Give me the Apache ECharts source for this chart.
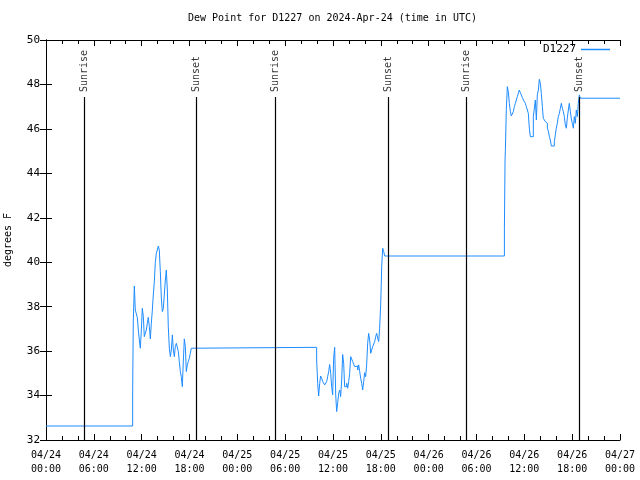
<!DOCTYPE html>
<html><head><meta charset="utf-8">
<script src="https://cdn.jsdelivr.net/npm/echarts@6/dist/echarts.min.js"></script>
<style>html,body{margin:0;padding:0;background:#fff}#c{width:640px;height:480px}</style>
</head><body><div id="c"></div>
<script>
// hours since 2024-04-24 00:00 UTC
const hours = [0, 10.87, 10.95, 11.08, 11.12, 11.2, 11.45, 11.58, 11.71, 11.83, 11.96, 12.08, 12.21, 12.33, 12.46, 12.58, 12.71, 12.83, 12.96, 13.09, 13.21, 13.34, 13.46, 13.59, 13.71, 13.84, 13.96, 14.09, 14.21, 14.34, 14.47, 14.59, 14.72, 14.84, 14.97, 15.09, 15.22, 15.34, 15.47, 15.6, 15.72, 15.85, 15.97, 16.1, 16.22, 16.35, 16.47, 16.6, 16.72, 16.85, 16.97, 17.1, 17.23, 17.35, 17.48, 17.6, 17.73, 17.85, 17.98, 18.1, 18.23, 18.35,
  33.95, 34.08, 34.2, 34.33, 34.45, 34.58, 34.71, 34.83, 34.96, 35.08, 35.21, 35.33, 35.46, 35.58, 35.71, 35.83, 35.96, 36.08, 36.21, 36.34, 36.46, 36.59, 36.71, 36.84, 36.96, 37.09, 37.21, 37.34, 37.46, 37.59, 37.72, 37.84, 37.97, 38.09, 38.22, 38.34, 38.47, 38.59, 38.72, 38.84, 38.97, 39.1, 39.22, 39.35, 39.47, 39.6, 39.72, 39.85, 39.97, 40.1, 40.22, 40.35, 40.47, 40.6, 40.73, 40.85, 40.98, 41.1, 41.23, 41.35, 41.48, 41.6, 41.73, 41.85, 41.98, 42.11, 42.23, 42.36, 42.48,
  57.5, 57.58, 57.62, 57.74, 57.87, 57.99, 58.12, 58.25, 58.37, 58.5, 58.62, 58.75, 58.87, 59.0, 59.12, 59.25, 59.37, 59.5, 59.62, 59.75, 59.88, 60.0, 60.13, 60.25, 60.38, 60.5, 60.63, 60.75, 60.88, 61.0, 61.13, 61.26, 61.38, 61.51, 61.63, 61.76, 61.88, 62.01, 62.13, 62.26, 62.38, 62.51, 62.63, 62.76, 62.89, 63.01, 63.14, 63.26, 63.39, 63.51, 63.64, 63.76, 63.89, 64.01, 64.14, 64.26, 64.39, 64.52, 64.64, 64.77, 64.89, 65.02, 65.14, 65.27, 65.39, 65.52, 65.64, 65.77, 65.89, 66.02, 66.15, 66.27, 66.4, 66.52, 66.65, 66.77, 66.9, 67.02, 72];
const dewPoint = [32.63, 34.2, 37.36, 38.93, 38.6, 37.85, 37.52, 36.95, 36.5, 36.13, 36.95, 37.93, 37.55, 36.65, 36.58, 36.95, 37.25, 37.52, 37.1, 36.55, 37.25, 37.85, 38.53, 39.13, 39.98, 40.4, 40.55, 40.73, 40.55, 39.58, 38.38, 37.78, 37.93, 38.53, 39.2, 39.65, 38.75, 37.1, 36.13, 35.75, 36.05, 36.73, 36.05, 35.75, 36.2, 36.35, 36.28, 35.98, 35.53, 35.08, 34.85, 34.4, 35.6, 36.55, 36.2, 35.08, 35.38, 35.53, 35.68, 35.9, 36.13, 36.17,
  35.6, 34.55, 33.98, 34.55, 34.88, 34.78, 34.63, 34.58, 34.48, 34.4, 34.63, 34.85, 35.08, 35.4, 35.0, 34.4, 34.03, 35.68, 36.17, 34.03, 33.28, 33.68, 34.1, 34.25, 33.95, 34.7, 35.85, 35.45, 34.4, 34.4, 34.55, 34.33, 34.63, 35.0, 35.75, 35.68, 35.53, 35.42, 35.3, 35.23, 35.33, 35.15, 35.38, 35.08, 34.78, 34.55, 34.25, 34.63, 35.03, 34.85, 35.38, 36.35, 36.8, 36.5, 35.9, 35.9, 36.2, 36.13, 36.43, 36.65, 36.8, 36.58, 36.43, 37.03, 38.08, 39.8, 40.63, 40.48, 40.28,
  41.5, 44.6, 45.02, 46.88, 47.9, 47.68, 47.15, 46.78, 46.58, 46.58, 46.78, 47.0, 47.15, 47.3, 47.45, 47.6, 47.75, 47.63, 47.53, 47.42, 47.3, 47.23, 47.15, 47.0, 46.85, 46.7, 46.03, 45.65, 45.65, 45.65, 46.55, 46.55, 47.3, 46.4, 47.53, 47.75, 48.23, 48.05, 47.6, 47.0, 46.48, 46.4, 46.33, 46.25, 46.03, 45.9, 45.65, 45.5, 45.23, 45.23, 45.23, 45.43, 45.73, 46.03, 46.25, 46.55, 46.7, 46.93, 47.15, 46.93, 46.78, 46.55, 46.18, 46.03, 46.48, 46.85, 47.15, 46.78, 46.48, 46.25, 46.03, 46.55, 46.25, 46.85, 46.55, 47.15, 47.53, 47.38, 47.38];
const eventHours = [4.77, 18.82, 28.73, 42.9, 52.68, 66.86];
const eventNames = ['Sunrise', 'Sunset', 'Sunrise', 'Sunset', 'Sunrise', 'Sunset'];
const eventLineTop = 47.44;
const eventLabelAt = 47.66;
const seriesName = 'D1227';
const titleText = 'Dew Point for D1227 on 2024-Apr-24 (time in UTC)';
const yName = 'degrees F';

const FONT = 'DejaVu Sans Mono';
const pad = n => (n < 10 ? '0' : '') + n;
function fmtX(v) {
  const day = 24 + Math.floor(v / 24 + 1e-9);
  const h = Math.round(v - (day - 24) * 24);
  return '04/' + pad(day) + '\n' + pad(h) + ':00';
}
const chart = echarts.init(document.getElementById('c'), null, {renderer: 'canvas'});
const axisLine = {show: true, lineStyle: {color: '#000', width: 1}};
chart.setOption({
  animation: false,
  backgroundColor: '#fff',
  title: {text: titleText, left: 188, top: 13, padding: 0,
    textStyle: {fontFamily: FONT, fontSize: 10, fontWeight: 'normal', color: '#000'}},
  legend: {data: [seriesName], right: 30, top: 44, align: 'right', icon: 'rect', itemWidth: 29, itemHeight: 1.5,
    itemGap: 5, padding: 0, textStyle: {fontFamily: FONT, fontSize: 11, color: '#000', padding: [0, 0, 0, 0]}},
  grid: {left: 46, right: 20, top: 40, bottom: 40, containLabel: false, outerBoundsMode: 'none'},
  xAxis: [{type: 'value', min: 0, max: 72, interval: 6, axisLine,
      axisTick: {show: true, inside: true, length: 6, lineStyle: {color: '#000'}},
      minorTick: {show: true, splitNumber: 3, length: 4, lineStyle: {color: '#000'}},
      splitLine: {show: false},
      axisLabel: {formatter: fmtX, fontFamily: FONT, fontSize: 10, color: '#000', lineHeight: 14, margin: 8}},
    {type: 'value', position: 'top', min: 0, max: 72, interval: 6, axisLine,
      axisTick: {show: true, inside: true, length: 6, lineStyle: {color: '#000'}},
      minorTick: {show: true, splitNumber: 3, length: 4, lineStyle: {color: '#000'}},
      splitLine: {show: false}, axisLabel: {show: false}}],
  yAxis: [{type: 'value', min: 32, max: 50, interval: 2, axisLine,
      axisTick: {show: true, inside: true, length: 6, lineStyle: {color: '#000'}},
      splitLine: {show: false},
      axisLabel: {fontFamily: FONT, fontSize: 11, color: '#000', margin: 6},
      name: yName, nameLocation: 'middle', nameGap: 33, nameRotate: 90,
      nameTextStyle: {fontFamily: FONT, fontSize: 10, color: '#000'}},
    {type: 'value', position: 'right', min: 32, max: 50, interval: 2, axisLine,
      axisTick: {show: true, inside: true, length: 6, lineStyle: {color: '#000'}},
      splitLine: {show: false}, axisLabel: {show: false}}],
  series: [
    {name: seriesName, type: 'line', step: 'end', showSymbol: false, symbol: 'none',
      data: hours.map((h, i) => [h, dewPoint[i]]),
      lineStyle: {color: '#1e8cff', width: 1}, itemStyle: {color: '#1e8cff'},
      markLine: {silent: true, symbol: 'none', animation: false,
        lineStyle: {color: '#000', type: 'solid', width: 1.2}, label: {show: false},
        data: eventHours.map(h => [{coord: [h, eventLineTop]}, {coord: [h, 32]}])}},
    {name: 'events', type: 'scatter', symbolSize: 0, silent: true,
      data: eventHours.map((h, i) => ({value: [h, eventLabelAt], name: eventNames[i]})),
      label: {show: true, position: 'inside', rotate: 90, align: 'left', verticalAlign: 'middle',
        formatter: p => p.name, fontFamily: FONT, fontSize: 10, color: '#000'}}
  ]
});
</script></body></html>
